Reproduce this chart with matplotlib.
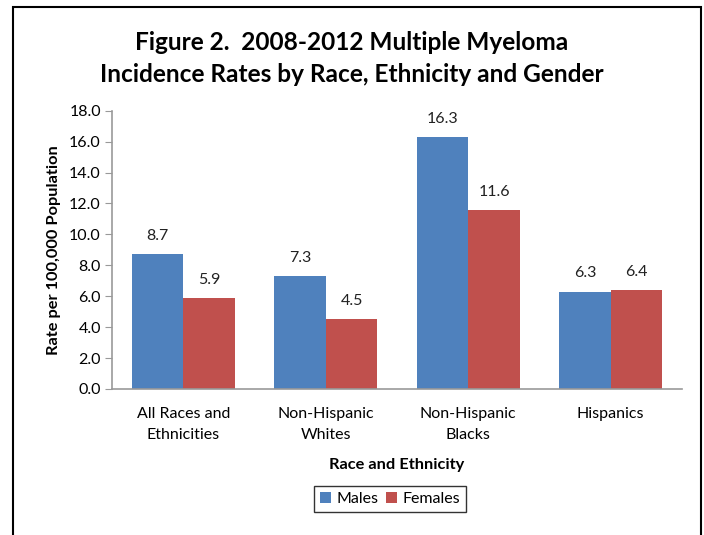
import matplotlib.pyplot as plt
import numpy as np
from matplotlib.patches import Rectangle

# data
groups = ['All Races and\nEthnicities', 'Non-Hispanic\nWhites', 'Non-Hispanic\nBlacks', 'Hispanics']
males = [8.7, 7.3, 16.3, 6.3]
females = [5.9, 4.5, 11.6, 6.4]
yticks = np.arange(0, 18.1, 2.0)

plt.rcParams['font.family'] = ['Lato', 'DejaVu Sans']

fig = plt.figure(figsize=(7.04, 5.35), dpi=100)
W, H = 704, 535

# axes placed in pixel terms
x0, x1 = 112, 682
ytop, ybot = 110.7, 389
ax = fig.add_axes([x0 / W, 1 - ybot / H, (x1 - x0) / W, (ybot - ytop) / H])

x = np.arange(len(groups))
w = 0.363
b1 = ax.bar(x - w / 2, males, w, color='#4F81BD', label='Males')
b2 = ax.bar(x + w / 2, females, w, color='#C0504D', label='Females')

for bars in (b1, b2):
    for r in bars:
        ax.annotate(f'{r.get_height():.1f}', (r.get_x() + r.get_width() / 2, r.get_height()),
                    xytext=(0, 8), textcoords='offset points', ha='center', va='bottom',
                    fontsize=11.5, color='#222222')

ax.set_xlim(-0.5, len(groups) - 0.5)
ax.set_ylim(0, 18)
ax.set_yticks(yticks)
ax.set_yticklabels([f'{v:.1f}' for v in yticks], fontsize=11.5)
ax.set_xticks(x)
ax.set_xticklabels(groups, fontsize=11.5, linespacing=1.6)
ax.tick_params(axis='x', length=0, pad=13)
ax.tick_params(axis='y', length=5, color='#999999', pad=3)
for s in ('top', 'right'):
    ax.spines[s].set_visible(False)
for s in ('left', 'bottom'):
    ax.spines[s].set_color('#999999')
    ax.spines[s].set_linewidth(1.2)

ax.set_ylabel('Rate per 100,000 Population', fontsize=11.8, fontweight='bold', labelpad=6)
ax.set_xlabel('Race and Ethnicity', fontsize=11.8, fontweight='bold', labelpad=12)

fig.text(0.5, 1 - 43 / H, 'Figure 2.  2008-2012 Multiple Myeloma', ha='center', va='center',
         fontsize=17.6, fontweight='bold')
fig.text(0.5, 1 - 75 / H, 'Incidence Rates by Race, Ethnicity and Gender', ha='center', va='center',
         fontsize=17.6, fontweight='bold')

leg = fig.legend(loc='center', bbox_to_anchor=(390 / W, 1 - 499 / H), ncol=2, fontsize=11.5,
                 frameon=True, fancybox=False, edgecolor='black', handlelength=0.7,
                 handleheight=0.7, handletextpad=0.3, columnspacing=0.5, borderpad=0.4)
leg.get_frame().set_linewidth(1.0)

# outer frame (bottom runs past the image)
fig.patches.append(Rectangle((13 / W, -0.1), (701 - 13) / W, 1.1 - 7 / H,
                             transform=fig.transFigure, fill=False, edgecolor='black', linewidth=1.5))

fig.savefig('out.png', dpi=100)
